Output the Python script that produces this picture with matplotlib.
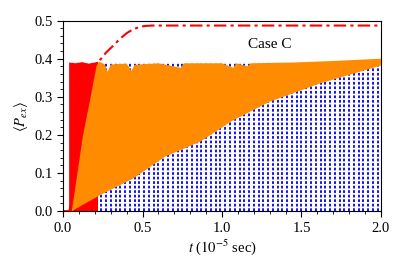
import numpy as np
import matplotlib.pyplot as plt
from matplotlib.ticker import MultipleLocator

plt.rcParams['font.family'] = ['Liberation Serif', 'DejaVu Serif']
plt.rcParams['mathtext.fontset'] = 'stix'

# red dash-dot envelope
t_env = [0.0, 0.04, 0.12, 0.18, 0.233, 0.27, 0.315, 0.36, 0.40, 0.44, 0.484,
         0.52, 0.56, 2.0]
p_env = [0.0, 0.0, 0.20, 0.33, 0.397, 0.416, 0.434, 0.453, 0.467, 0.477, 0.484,
         0.486, 0.487, 0.487]

# red oscillation band
t_red = [0.038, 0.038, 0.08, 0.12, 0.16, 0.20, 0.22, 0.22]
p_red = [0.0, 0.390, 0.388, 0.391, 0.387, 0.390, 0.392, 0.0]

# orange oscillation band: left edge, top, lower envelope
t_or_left = [0.055, 0.126, 0.174, 0.21, 0.225]
p_or_left = [0.0, 0.20, 0.30, 0.38, 0.392]
t_or_top = [0.26, 0.28, 0.30, 0.40, 0.43, 0.45, 0.60, 0.74, 0.76, 1.00, 1.07,
            1.09, 1.16, 1.18, 1.45, 1.70, 2.0]
p_or_top = [0.386, 0.366, 0.385, 0.387, 0.368, 0.384, 0.388, 0.376, 0.388,
            0.388, 0.376, 0.388, 0.380, 0.388, 0.390, 0.394, 0.400]
t_or_low = [2.0, 1.616, 1.30, 1.06, 0.862, 0.642, 0.443, 0.233, 0.055]
p_or_low = [0.382, 0.335, 0.287, 0.236, 0.182, 0.143, 0.086, 0.042, 0.0]

# blue oscillation: one dotted stroke per period
blue_period = 0.03
t_blue = np.arange(0.06, 2.0, blue_period)
p_blue_max = 0.392

fig = plt.figure(figsize=(4.07, 2.71), dpi=100)
ax = fig.add_axes([0.155, 0.221, 0.781, 0.703])

ax.vlines(t_blue, 0, p_blue_max, colors='#0000ee', linestyles=(0, (1.5, 1.0)),
          linewidth=1.3, zorder=1)
ax.fill(t_red, p_red, color='#ff0000', lw=0, zorder=2)
ax.plot(t_env, p_env, color='#ff0000', lw=1.5, ls=(0, (6, 2, 1.5, 2)), zorder=2.5)
ax.fill(t_or_left + t_or_top + t_or_low, p_or_left + p_or_top + p_or_low,
        color='#ff8c00', lw=0, zorder=3)

ax.text(1.3, 0.436, 'Case C', fontsize=11, ha='center', va='center')

ax.set_xlim(0, 2.0)
ax.set_ylim(0, 0.5)
ax.xaxis.set_major_locator(MultipleLocator(0.5))
ax.xaxis.set_minor_locator(MultipleLocator(0.1))
ax.yaxis.set_major_locator(MultipleLocator(0.1))
ax.yaxis.set_minor_locator(MultipleLocator(0.02))
ax.xaxis.set_major_formatter(plt.FormatStrFormatter('%.1f'))
ax.yaxis.set_major_formatter(plt.FormatStrFormatter('%.1f'))
ax.tick_params(which='major', length=4, labelsize=10.5, width=0.8)
ax.tick_params(which='minor', length=2, width=0.6)

ax.set_xlabel(r'$t$ ($10^{-5}$ sec)', fontsize=10.5, labelpad=2)
ax.set_ylabel(r'$\langle P_{ex}\rangle$', fontsize=10.5, labelpad=3)

plt.savefig('out.png', dpi=100)
